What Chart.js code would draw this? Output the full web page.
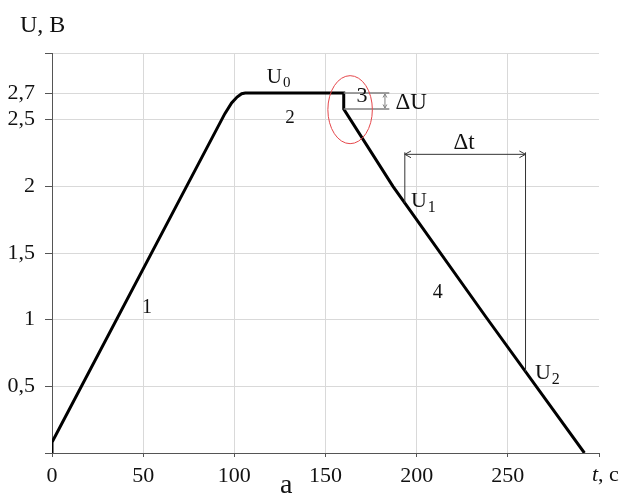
<!DOCTYPE html>
<html>
<head>
<meta charset="utf-8">
<script src="https://cdn.jsdelivr.net/npm/chart.js@4/dist/chart.umd.min.js"></script>
<style>
  html, body { margin: 0; padding: 0; background: #fff; }
  #wrap { width: 619px; height: 496px; }
</style>
</head>
<body>
<div id="wrap"><canvas id="voltageChart"></canvas></div>
<script>
// Кривая напряжения U(t): подъём (1), полка (2), скачок (3), спад (4)
const timeS    = [0, 0,    70.2,  94.8,  98.5,  101.5, 104,   106,  160,  160,  187, 238,  292];
const voltageV = [0, 0.08, 1.906, 2.545, 2.625, 2.67,  2.695, 2.70, 2.70, 2.58, 2.0, 1.02, 0];

// Деления осей
const xTicks = [0, 50, 100, 150, 200, 250, 300];
const yTicks = [0, 0.5, 1, 1.5, 2, 2.5, 2.7, 3];

// Отметки на графике
const plateauU = 2.70;
const dropU = 2.58;
const dropT = 160;
const dtStart = 193.5;
const dtEnd = 259.7;

const serif = '"Liberation Serif", "DejaVu Serif", serif';

// Значение кривой в момент t (линейно, по участкам)
function valueAt(t) {
    for (let i = 0; i < timeS.length - 1; i++) {
        if (timeS[i] < timeS[i + 1] && t >= timeS[i] && t <= timeS[i + 1]) {
            const k = (t - timeS[i]) / (timeS[i + 1] - timeS[i]);
            return voltageV[i] + k * (voltageV[i + 1] - voltageV[i]);
        }
    }
    return 0;
}

function seg(ctx, x1, y1, x2, y2) {
    ctx.beginPath();
    ctx.moveTo(x1, y1);
    ctx.lineTo(x2, y2);
    ctx.stroke();
}

// Открытая стрелка в точке (x, y), направление (dx, dy)
function head(ctx, x, y, dx, dy, size) {
    const a = Math.atan2(dy, dx);
    ctx.beginPath();
    ctx.moveTo(x - size * Math.cos(a - 0.5), y - size * Math.sin(a - 0.5));
    ctx.lineTo(x, y);
    ctx.lineTo(x - size * Math.cos(a + 0.5), y - size * Math.sin(a + 0.5));
    ctx.stroke();
}

// Текст с нижним индексом, центр по (cx, cy)
function label(ctx, main, sub, cx, cy, size) {
    ctx.font = size + 'px ' + serif;
    const w1 = ctx.measureText(main).width;
    ctx.font = Math.round(size * 0.72) + 'px ' + serif;
    const w2 = sub ? ctx.measureText(sub).width : 0;
    const left = cx - (w1 + w2) / 2;
    const base = cy + size * 0.33;
    ctx.textAlign = 'left';
    ctx.textBaseline = 'alphabetic';
    ctx.font = size + 'px ' + serif;
    ctx.fillText(main, left, base);
    if (sub) {
        ctx.font = Math.round(size * 0.72) + 'px ' + serif;
        ctx.fillText(sub, left + w1 + 1, base + size * 0.22);
    }
}

const sketchPlugin = {
    id: 'sketch',
    afterDatasetsDraw(chart) {
        const { ctx, chartArea, scales: { x, y } } = chart;
        const px = t => x.getPixelForValue(t);
        const py = u => y.getPixelForValue(u);
        ctx.save();

        // ΔU — выносные линии и стрелка
        ctx.strokeStyle = '#808080';
        ctx.lineWidth = 1.5;
        seg(ctx, px(dropT), py(plateauU), px(185), py(plateauU));
        seg(ctx, px(dropT), py(dropU), px(185), py(dropU));
        ctx.lineWidth = 1;
        seg(ctx, px(182.6), py(plateauU) + 1, px(182.6), py(dropU) - 1);
        head(ctx, px(182.6), py(plateauU) + 1, 0, -1, 4);
        head(ctx, px(182.6), py(dropU) - 1, 0, 1, 4);

        // Красный эллипс вокруг скачка
        ctx.strokeStyle = '#e5474b';
        ctx.lineWidth = 1;
        ctx.beginPath();
        ctx.ellipse(px(163.5), py(2.575), px(163.5 + 12.2) - px(163.5), py(2.575) - py(2.83), 0, 0, Math.PI * 2);
        ctx.stroke();

        // Δt — размерная линия
        ctx.strokeStyle = '#333';
        ctx.lineWidth = 1;
        const topY = py(2.24);
        seg(ctx, px(dtStart), topY - 2, px(dtStart), py(valueAt(dtStart)));
        seg(ctx, px(dtEnd), topY - 2, px(dtEnd), py(valueAt(dtEnd)));
        seg(ctx, px(dtStart), topY, px(dtEnd), topY);
        head(ctx, px(dtStart), topY, -1, 0, 7);
        head(ctx, px(dtEnd), topY, 1, 0, 7);

        // Подписи
        ctx.fillStyle = '#111';
        label(ctx, 'U', '0', px(124), py(2.83), 21);
        label(ctx, '2', '', px(130.5), py(2.52), 19);
        label(ctx, '3', '', px(170), py(2.69), 22);
        label(ctx, '\u0394U', '', px(197), py(2.64), 23);
        label(ctx, '\u0394t', '', px(226), py(2.335), 23);
        label(ctx, 'U', '1', px(203.4), py(1.90), 22);
        label(ctx, 'U', '2', px(271.4), py(0.61), 22);
        label(ctx, '4', '', px(211.6), py(1.215), 20);
        label(ctx, '1', '', px(52.1), py(1.10), 20);

        // Подписи осей
        ctx.textAlign = 'left';
        ctx.textBaseline = 'alphabetic';
        ctx.font = '24px ' + serif;
        ctx.fillText('U, B', chartArea.left - 32, chartArea.top - 21);
        ctx.font = 'italic 22px ' + serif;
        const tx = chartArea.right - 7;
        const ty = chartArea.bottom + 28;
        ctx.fillText('t', tx, ty);
        const tw = ctx.measureText('t').width;
        ctx.font = '22px ' + serif;
        ctx.fillText(', c', tx + tw, ty);

        ctx.textAlign = 'center';
        ctx.font = '28px ' + serif;
        ctx.fillText('a', px(128.5), chartArea.bottom + 40);

        ctx.restore();
    }
};

const ctx = document.getElementById('voltageChart').getContext('2d');
const chart = new Chart(ctx, {
    type: 'line',
    data: {
        datasets: [{
            data: timeS.map((t, i) => ({ x: t, y: voltageV[i] })),
            borderColor: '#000',
            borderWidth: 3,
            pointRadius: 0,
            fill: false,
            tension: 0,
        }]
    },
    options: {
        responsive: true,
        maintainAspectRatio: false,
        animation: false,
        layout: { padding: { left: 0, top: 53, right: 20, bottom: 0 } },
        plugins: {
            legend: { display: false },
            tooltip: { enabled: false },
        },
        scales: {
            x: {
                type: 'linear',
                min: 0,
                max: 300,
                afterBuildTicks: s => { s.ticks = xTicks.map(v => ({ value: v })); },
                afterFit: s => { s.height = 43; },
                grid: {
                    color: c => (c.tick && c.tick.value === 300) ? 'rgba(0,0,0,0)' : '#d9d9d9',
                    tickColor: '#555',
                    tickLength: 4,
                },
                border: { color: '#555', width: 1 },
                ticks: {
                    font: { family: serif, size: 22 },
                    color: '#111',
                    padding: 6,
                    maxRotation: 0,
                    autoSkip: false,
                    callback: v => v === 300 ? '' : String(v),
                },
            },
            y: {
                type: 'linear',
                min: 0,
                max: 3,
                afterBuildTicks: s => { s.ticks = yTicks.map(v => ({ value: v })); },
                afterFit: s => { s.width = 52; },
                grid: {
                    color: '#d9d9d9',
                    tickColor: '#555',
                    tickLength: 7,
                },
                border: { color: '#555', width: 1 },
                ticks: {
                    font: { family: serif, size: 22 },
                    color: '#111',
                    padding: 10,
                    autoSkip: false,
                    callback: v => (v === 0 || v === 3) ? '' : String(v).replace('.', ','),
                },
            },
        },
    },
    plugins: [sketchPlugin],
});
</script>
</body>
</html>
